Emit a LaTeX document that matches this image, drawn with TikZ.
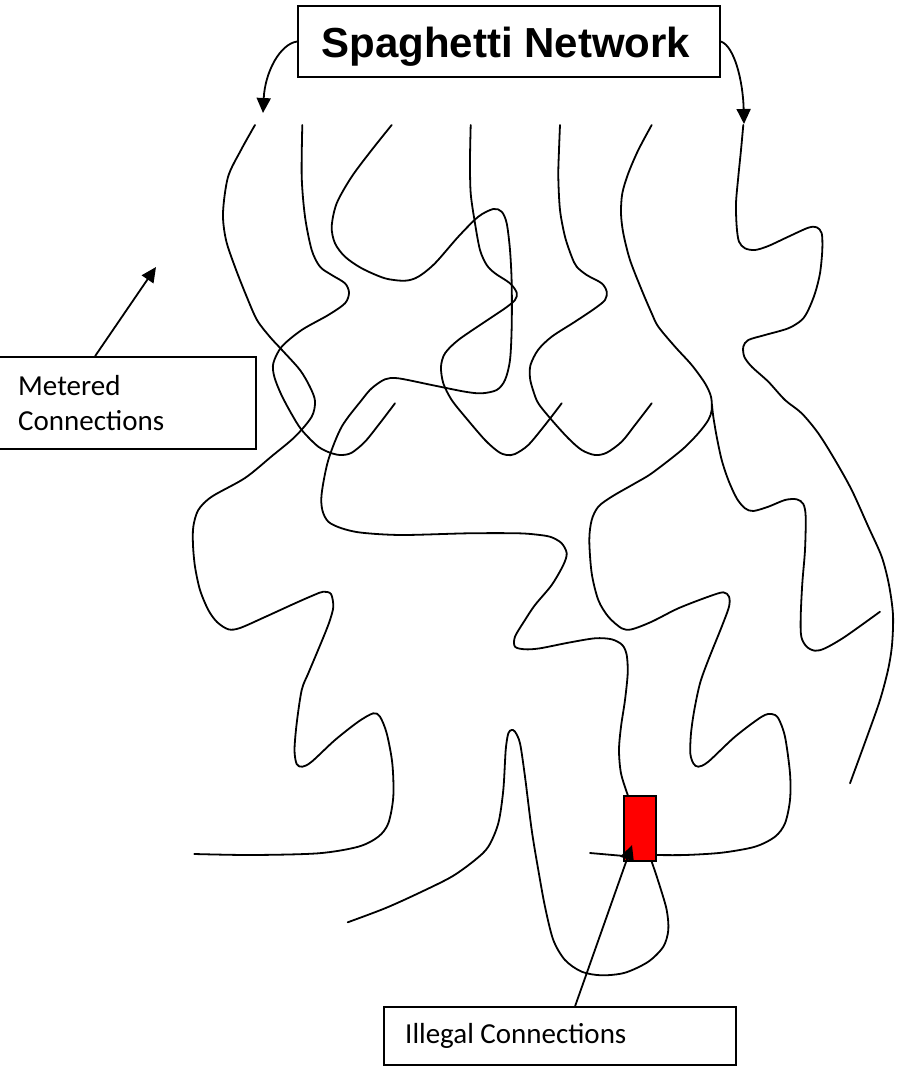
\documentclass[tikz,border=0pt]{standalone}
\usepackage{fontspec}
\usetikzlibrary{arrows.meta}
\newfontfamily\lblfont{Carlito}
\newfontfamily\ttlfont{Liberation Sans}
\begin{document}
\begin{tikzpicture}[x=1pt,y=-1pt,
  strand/.style={line width=1.8pt, line join=round, line cap=round},
  boxstyle/.style={draw, line width=1.8pt, inner sep=0pt, fill=white},
  arr/.style={line width=1.8pt, -{Triangle[width=14pt,length=15pt]}},
  lbl/.style={font=\lblfont\fontsize{29}{35}\selectfont, inner sep=0pt, anchor=base west},
  ttl/.style={font=\ttlfont\bfseries\fontsize{42}{50}\selectfont, inner sep=0pt, anchor=base}]
\useasboundingbox (0,0) rectangle (903,1066);
\fill[white] (0,0) rectangle (903,1066);

% strands
\draw[strand] plot[smooth] coordinates {(255,125) (241,150) (228,177) (223,213) (226,240) (235,267) (246,295) (257,320) (270,337) (282,350) (300,370) (310,387) (315,401) (311.7,416.7) (295,436.7) (272,456) (245,478) (211.7,496.7) (198.3,510) (193.3,526.7) (193,545) (195,566.7) (200,590) (208.3,610) (217,622) (228.3,629.3) (240,628) (265,617) (295,603.3) (314,595) (323.3,591.7) (331,594) (333.3,606.7) (330,620) (325,633.3) (316,655) (308.3,673.3) (301.7,690) (296.7,723.3) (294.5,750) (296.7,764) (302.3,766.7) (311.7,761.7) (335,740) (358.3,721.7) (373.3,713.3) (380,716.7) (386.7,733.3) (392.3,763.3) (393.3,796.7) (388.3,823.3) (378.3,836.7) (358.3,846.7) (318.3,853.3) (251.7,855) (194.3,854)};

\draw[strand] plot[smooth] coordinates {(302.3,125) (301.7,176.7) (305,216.7) (311.7,250) (320,266.7) (331.7,275) (345,283.3) (349,292.7) (345,303.3) (328.3,315) (301.7,330) (281.7,346.7) (273.3,363.3) (274.3,376.7) (281,394) (291,413) (301.7,430) (318.3,446.7) (331.7,453.3) (341.7,455) (351.7,452.7) (365,441.7) (380,423) (395,403.3)};

\draw[strand] plot[smooth] coordinates {(391.7,125) (371.7,150) (351.7,176.7) (336.7,203.3) (331.7,226.7) (335,243.3) (345,256.7) (361.7,268.3) (385,278.3) (405,280.7) (418.3,276.7) (435,263.3) (458.3,236.7) (478.3,216.7) (493.3,209) (501.7,211.7) (506.7,223.3) (510,250) (511.7,283.3) (511.7,326.7) (510,360) (505,380) (496.7,390) (481.7,393.3) (465,391.7) (431.7,385) (398.3,378.3) (385,379.3) (371.7,388.3) (361.7,400) (341.7,426.7) (328.3,460) (321.7,493.3) (322.3,510) (328.3,521.7) (341.7,528.3) (361.7,532.7) (401.7,535) (468.3,533.3) (518.3,533.3) (540,535) (551.7,537.3) (561.7,543.3) (566.7,553.3) (563.3,565) (551.7,585) (535,605) (525,620) (515,636.7) (515,646.7) (525,649.3) (540,648.3) (568.3,642.7) (595,638.3) (611.7,639.3) (622.3,645) (626.7,655) (627.7,673.3) (625,700) (621,726.7) (619,750) (621,773.3) (628.3,796.7) (640,830) (651.7,861.7) (660,886.7) (666.7,910) (668.3,930) (663.3,946.7) (648.3,961.7) (625,972.7) (601.7,975.3) (581.7,971.7) (565,960) (553.3,940) (545,906.7) (538.3,870) (531.7,830) (525,776.7) (520,743.3) (515,731.7) (511.7,730) (508.3,733.3) (505.7,750) (503.3,790) (498.3,823.3) (488.3,846.7) (475,860) (451.7,876.7) (418.3,893.3) (385,908.3) (347.7,922.3)};

\draw[strand] plot[smooth] coordinates {(470.7,125) (470,160) (470.7,193.3) (475,223.3) (480,250) (486.7,265) (495,273.3) (510,283.3) (516.7,292.7) (515,300) (505,308.3) (485,321.7) (458.3,340) (445,353.3) (441,366.7) (443.3,383.3) (451.7,400) (465,416.7) (485,440) (498.3,451.7) (506.7,455) (515,454) (528.3,445) (545,425) (561.7,403.3)};

\draw[strand] plot[smooth] coordinates {(560,125) (559,150) (558.3,176.7) (560,210) (565,236.7) (571.7,256.7) (576.7,266.7) (586.7,275) (601.7,283.3) (606.7,291.7) (605,300) (595,308.3) (575,321.7) (551.7,336.7) (538,350) (530.5,365) (530,378) (533,390) (538.3,403.3) (551.7,420) (568.3,438.3) (581.7,450) (595,455) (606.7,452.7) (621.7,441.7) (635,425) (651.7,403.3)};

\draw[strand] plot[smooth] coordinates {(651.7,125) (638.3,150) (628.3,173.3) (622.3,193.3) (621,213.3) (623.3,233.3) (630,260) (641.7,290) (651.7,313.3) (658.3,326.7) (675,346.7) (691.7,365) (705,383.3) (711,396.7) (711.7,410) (708.3,420) (698.3,433.3) (681.7,450) (651.7,473.3) (635,483.3) (611.7,496.7) (598.3,506.7) (591.7,520) (589.3,540) (591.7,573.3) (598.3,600) (608.3,616.7) (621.7,628.3) (631.7,629.3) (651.7,621.7) (678.3,608.3) (708.3,596.7) (723.3,592.3) (729,596.7) (729,606.7) (721.7,626.7) (708.3,660) (700,683.3) (694.3,710) (691,733.3) (690.3,753.3) (693.3,763.3) (698.3,766.7) (708.3,761.7) (735,736.7) (761.7,716.7) (771.7,714) (778.3,718.3) (785,736.7) (790,773.3) (790,800) (785,823.3) (775,836.7) (755,846.7) (721.7,852.7) (685,855) (656,855)};

\draw[strand] plot[smooth] coordinates {(712,405) (713.3,416.7) (716.7,436.7) (721.7,460) (728.3,480) (736.7,498.3) (745,508.3) (753.3,511) (768.3,506.7) (785,500) (796.7,499.3) (803.3,504) (805.7,516.7) (805,550) (802.3,583.3) (800.7,616.7) (801.3,636.7) (806.7,646.7) (815,650.7) (825,648.3) (845,636.7) (880,611.7)};

\draw[strand] plot[smooth] coordinates {(743.3,125) (741,150) (738.3,176.7) (736,203.3) (736.7,226.7) (739,241.7) (745,248.3) (755,250) (768.3,246) (788.3,236.7) (808.3,227.7) (816.7,227.3) (821.7,233.3) (822.3,250) (820,273.3) (815,293.3) (808.3,310) (801.7,320) (788.3,328.3) (765,335) (748.3,340) (743.3,346.7) (744.3,356.7) (751.7,366.7) (768.3,381.7) (785,400) (801.7,413.3) (818.3,433.3) (835,460) (851.7,490) (868.3,526.7) (881.7,556.7) (889,585) (893,615) (892,645) (888,670) (880,700) (868.3,733.3) (850,783.3)};

% red illegal connection
\node[draw, line width=1.8pt, fill=red, minimum width=32pt, minimum height=65pt, inner sep=0pt] (redbox) at (640,828.5) {};
\coordinate (stub) at (590,853);
\draw[strand] (stub) -- ([yshift=6pt]redbox.south west);

% title
\node[boxstyle, minimum width=422pt, minimum height=71pt] (title) at (509,41.5) {};
\node[ttl] (titletext) at (506,57) {Spaghetti Network};
\coordinate (tipL) at (263,113);
\coordinate (tipR) at (744,124);
\draw[arr] (title.west) .. controls (280,44) and (265,72) .. (tipL);
\draw[arr] (title.east) .. controls (734,46) and (743,80) .. (tipR);

% metered
\node[boxstyle, minimum width=258pt, minimum height=92pt] (metered) at (127,403) {};
\node[lbl] (met1) at (18,395) {Metered};
\node[lbl] (met2) at (18,430) {Connections};
\coordinate (mtip) at (156,267);
\draw[arr] ([xshift=98pt]metered.north west) -- (mtip);

% illegal
\node[boxstyle, minimum width=352pt, minimum height=58pt] (illegal) at (560,1036) {};
\node[lbl] (illtext) at (405,1043) {Illegal Connections};
\coordinate (itip) at (632,845);
\draw[arr] ([xshift=192pt]illegal.north west) -- (itip);
\end{tikzpicture}
\end{document}
